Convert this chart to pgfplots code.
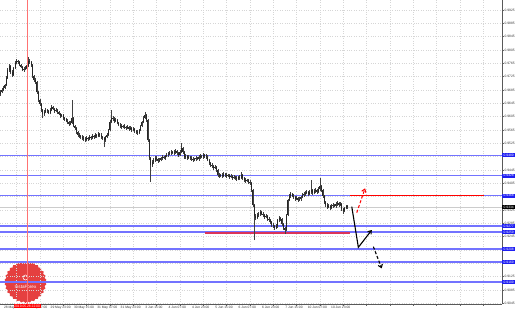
\documentclass[border=0pt]{standalone}
\usepackage{fontspec}
\setmainfont{Liberation Sans}
\usepackage{pgfplots}
\usepackage{pgfplotstable}
\pgfplotsset{compat=1.18}
\usetikzlibrary{shapes.geometric,arrows.meta}
\definecolor{lvl}{rgb}{0.45,0.45,1}
\definecolor{lvlbox}{rgb}{0.12,0.12,0.95}
\definecolor{logo}{rgb}{0.9,0.25,0.25}
\definecolor{vred}{rgb}{1,0.45,0.45}
\definecolor{pinkred}{rgb}{0.86,0.2,0.35}

\pgfplotstableread{
x lo hi bot top
-11 0.9668 0.9684 0.9673 0.9679
-10 0.9675 0.9690 0.9679 0.9685
-9 0.9681 0.9697 0.9685 0.9691
-8 0.9688 0.9704 0.9691 0.9700
-7 0.9697 0.9726 0.9700 0.9721
-6 0.9718 0.9752 0.9721 0.9745
-5 0.9740 0.9763 0.9745 0.9757
-4 0.9733 0.9761 0.9739 0.9757
-3 0.9724 0.9744 0.9730 0.9739
-2 0.9727 0.9755 0.9730 0.9751
-1 0.9748 0.9771 0.9751 0.9766
0 0.9762 0.9777 0.9766 0.9772
1 0.9764 0.9776 0.9769 0.9772
2 0.9756 0.9773 0.9760 0.9769
3 0.9750 0.9764 0.9754 0.9760
4 0.9741 0.9758 0.9745 0.9754
5 0.9740 0.9753 0.9745 0.9748
6 0.9744 0.9756 0.9748 0.9751
7 0.9747 0.9761 0.9751 0.9757
8 0.9754 0.9785 0.9757 0.9772
9 0.9764 0.9778 0.9769 0.9772
10 0.9755 0.9773 0.9760 0.9769
11 0.9722 0.9764 0.9727 0.9760
12 0.9710 0.9731 0.9715 0.9727
13 0.9703 0.9720 0.9709 0.9715
14 0.9674 0.9712 0.9679 0.9709
15 0.9650 0.9682 0.9655 0.9679
16 0.9638 0.9659 0.9643 0.9655
17 0.9620 0.9646 0.9625 0.9643
18 0.9600 0.9628 0.9613 0.9625
19 0.9608 0.9624 0.9613 0.9619
20 0.9615 0.9630 0.9619 0.9625
21 0.9617 0.9629 0.9622 0.9625
22 0.9612 0.9626 0.9616 0.9622
23 0.9612 0.9630 0.9616 0.9625
24 0.9621 0.9640 0.9625 0.9634
25 0.9624 0.9638 0.9628 0.9634
26 0.9617 0.9632 0.9622 0.9628
27 0.9618 0.9630 0.9622 0.9625
28 0.9614 0.9629 0.9619 0.9625
29 0.9609 0.9623 0.9613 0.9619
30 0.9602 0.9617 0.9607 0.9613
31 0.9603 0.9614 0.9607 0.9610
32 0.9596 0.9614 0.9601 0.9610
33 0.9593 0.9605 0.9598 0.9601
34 0.9588 0.9602 0.9592 0.9598
35 0.9584 0.9597 0.9589 0.9592
36 0.9578 0.9593 0.9583 0.9589
37 0.9579 0.9591 0.9583 0.9586
38 0.9582 0.9655 0.9586 0.9601
39 0.9573 0.9605 0.9577 0.9601
40 0.9566 0.9581 0.9571 0.9577
41 0.9554 0.9575 0.9559 0.9571
42 0.9545 0.9563 0.9550 0.9559
43 0.9542 0.9555 0.9547 0.9550
44 0.9539 0.9551 0.9544 0.9547
45 0.9536 0.9549 0.9541 0.9544
46 0.9532 0.9546 0.9538 0.9541
47 0.9530 0.9543 0.9535 0.9538
48 0.9531 0.9546 0.9535 0.9541
49 0.9533 0.9545 0.9538 0.9541
50 0.9534 0.9549 0.9538 0.9544
51 0.9536 0.9548 0.9541 0.9544
52 0.9537 0.9552 0.9541 0.9547
53 0.9539 0.9551 0.9544 0.9547
54 0.9540 0.9555 0.9544 0.9550
55 0.9542 0.9554 0.9547 0.9550
56 0.9543 0.9558 0.9547 0.9553
57 0.9545 0.9557 0.9550 0.9553
58 0.9539 0.9555 0.9544 0.9550
59 0.9536 0.9548 0.9541 0.9544
60 0.9514 0.9545 0.9535 0.9541
61 0.9530 0.9548 0.9535 0.9544
62 0.9540 0.9555 0.9544 0.9550
63 0.9546 0.9569 0.9550 0.9565
64 0.9561 0.9594 0.9565 0.9589
65 0.9585 0.9625 0.9589 0.9601
66 0.9593 0.9606 0.9598 0.9601
67 0.9587 0.9603 0.9592 0.9598
68 0.9588 0.9600 0.9592 0.9595
69 0.9582 0.9599 0.9586 0.9595
70 0.9576 0.9590 0.9580 0.9586
71 0.9572 0.9585 0.9577 0.9580
72 0.9569 0.9582 0.9574 0.9577
73 0.9570 0.9581 0.9574 0.9577
74 0.9569 0.9582 0.9574 0.9577
75 0.9566 0.9578 0.9571 0.9574
76 0.9567 0.9579 0.9571 0.9574
77 0.9563 0.9578 0.9568 0.9574
78 0.9564 0.9576 0.9568 0.9571
79 0.9560 0.9575 0.9565 0.9571
80 0.9561 0.9573 0.9565 0.9568
81 0.9557 0.9572 0.9562 0.9568
82 0.9554 0.9566 0.9559 0.9562
83 0.9551 0.9564 0.9556 0.9559
84 0.9552 0.9569 0.9556 0.9565
85 0.9561 0.9581 0.9565 0.9577
86 0.9573 0.9593 0.9577 0.9589
87 0.9585 0.9606 0.9589 0.9601
88 0.9597 0.9619 0.9601 0.9610
89 0.9590 0.9614 0.9595 0.9610
90 0.9530 0.9598 0.9535 0.9595
91 0.9476 0.9538 0.9481 0.9535
92 0.9409 0.9485 0.9460 0.9481
93 0.9455 0.9474 0.9460 0.9469
94 0.9464 0.9480 0.9469 0.9475
95 0.9470 0.9486 0.9475 0.9481
96 0.9473 0.9486 0.9478 0.9481
97 0.9467 0.9482 0.9472 0.9478
98 0.9468 0.9480 0.9472 0.9475
99 0.9471 0.9485 0.9475 0.9481
100 0.9476 0.9489 0.9481 0.9484
101 0.9477 0.9488 0.9481 0.9484
102 0.9476 0.9491 0.9481 0.9487
103 0.9483 0.9495 0.9487 0.9490
104 0.9485 0.9498 0.9490 0.9493
105 0.9489 0.9501 0.9493 0.9496
106 0.9491 0.9504 0.9496 0.9499
107 0.9492 0.9503 0.9496 0.9499
108 0.9491 0.9504 0.9496 0.9499
109 0.9494 0.9507 0.9499 0.9502
110 0.9491 0.9506 0.9496 0.9502
111 0.9485 0.9500 0.9490 0.9496
112 0.9486 0.9504 0.9490 0.9499
113 0.9495 0.9526 0.9499 0.9511
114 0.9494 0.9515 0.9499 0.9511
115 0.9479 0.9503 0.9484 0.9499
116 0.9479 0.9492 0.9484 0.9487
117 0.9476 0.9491 0.9481 0.9487
118 0.9477 0.9489 0.9481 0.9484
119 0.9476 0.9488 0.9481 0.9484
120 0.9473 0.9486 0.9478 0.9481
121 0.9470 0.9483 0.9475 0.9478
122 0.9471 0.9482 0.9475 0.9478
123 0.9473 0.9486 0.9478 0.9481
124 0.9474 0.9485 0.9478 0.9481
125 0.9473 0.9489 0.9478 0.9484
126 0.9479 0.9492 0.9484 0.9487
127 0.9480 0.9491 0.9484 0.9487
128 0.9479 0.9495 0.9484 0.9490
129 0.9482 0.9494 0.9487 0.9490
130 0.9479 0.9492 0.9484 0.9487
131 0.9471 0.9489 0.9475 0.9484
132 0.9461 0.9479 0.9466 0.9475
133 0.9455 0.9470 0.9460 0.9466
134 0.9452 0.9465 0.9457 0.9460
135 0.9446 0.9461 0.9451 0.9457
136 0.9447 0.9459 0.9451 0.9454
137 0.9440 0.9458 0.9445 0.9454
138 0.9425 0.9449 0.9430 0.9445
139 0.9422 0.9435 0.9427 0.9430
140 0.9423 0.9434 0.9427 0.9430
141 0.9422 0.9435 0.9427 0.9430
142 0.9423 0.9438 0.9427 0.9433
143 0.9425 0.9437 0.9430 0.9433
144 0.9422 0.9435 0.9427 0.9430
145 0.9423 0.9434 0.9427 0.9430
146 0.9419 0.9434 0.9424 0.9430
147 0.9420 0.9432 0.9424 0.9427
148 0.9416 0.9431 0.9421 0.9427
149 0.9417 0.9429 0.9421 0.9424
150 0.9416 0.9428 0.9421 0.9424
151 0.9413 0.9426 0.9418 0.9421
152 0.9414 0.9428 0.9418 0.9424
153 0.9416 0.9429 0.9421 0.9424
154 0.9417 0.9439 0.9421 0.9430
155 0.9416 0.9434 0.9421 0.9430
156 0.9410 0.9425 0.9415 0.9421
157 0.9407 0.9420 0.9412 0.9415
158 0.9408 0.9419 0.9412 0.9415
159 0.9404 0.9419 0.9409 0.9415
160 0.9401 0.9414 0.9406 0.9409
161 0.9380 0.9410 0.9385 0.9406
162 0.9335 0.9389 0.9340 0.9385
163 0.9235 0.9344 0.9307 0.9340
164 0.9296 0.9312 0.9301 0.9307
165 0.9297 0.9315 0.9301 0.9310
166 0.9305 0.9318 0.9310 0.9313
167 0.9308 0.9324 0.9313 0.9319
168 0.9309 0.9323 0.9313 0.9319
169 0.9305 0.9318 0.9310 0.9313
170 0.9299 0.9314 0.9304 0.9310
171 0.9300 0.9312 0.9304 0.9307
172 0.9293 0.9311 0.9298 0.9307
173 0.9290 0.9303 0.9295 0.9298
174 0.9284 0.9299 0.9289 0.9295
175 0.9275 0.9293 0.9280 0.9289
176 0.9272 0.9285 0.9277 0.9280
177 0.9266 0.9281 0.9271 0.9277
178 0.9267 0.9282 0.9271 0.9277
179 0.9272 0.9299 0.9277 0.9295
180 0.9290 0.9306 0.9295 0.9301
181 0.9293 0.9305 0.9298 0.9301
182 0.9278 0.9302 0.9283 0.9298
183 0.9266 0.9287 0.9271 0.9283
184 0.9253 0.9275 0.9265 0.9271
185 0.9261 0.9314 0.9265 0.9310
186 0.9306 0.9359 0.9310 0.9355
187 0.9351 0.9372 0.9355 0.9367
188 0.9362 0.9378 0.9367 0.9373
189 0.9363 0.9377 0.9367 0.9373
190 0.9359 0.9372 0.9364 0.9367
191 0.9353 0.9368 0.9358 0.9364
192 0.9354 0.9366 0.9358 0.9361
193 0.9350 0.9365 0.9355 0.9361
194 0.9351 0.9363 0.9355 0.9358
195 0.9353 0.9368 0.9358 0.9364
196 0.9360 0.9375 0.9364 0.9370
197 0.9365 0.9378 0.9370 0.9373
198 0.9368 0.9381 0.9373 0.9376
199 0.9372 0.9384 0.9376 0.9379
200 0.9368 0.9383 0.9373 0.9379
201 0.9369 0.9384 0.9373 0.9379
202 0.9374 0.9415 0.9379 0.9385
203 0.9371 0.9389 0.9376 0.9385
204 0.9372 0.9387 0.9376 0.9382
205 0.9377 0.9390 0.9382 0.9385
206 0.9374 0.9389 0.9379 0.9385
207 0.9375 0.9393 0.9379 0.9388
208 0.9383 0.9421 0.9388 0.9397
209 0.9380 0.9401 0.9385 0.9397
210 0.9362 0.9389 0.9367 0.9385
211 0.9344 0.9371 0.9349 0.9367
212 0.9335 0.9353 0.9340 0.9349
213 0.9329 0.9345 0.9334 0.9340
214 0.9330 0.9342 0.9334 0.9337
215 0.9326 0.9341 0.9331 0.9337
216 0.9327 0.9342 0.9331 0.9337
217 0.9332 0.9345 0.9337 0.9340
218 0.9333 0.9344 0.9337 0.9340
219 0.9332 0.9348 0.9337 0.9343
220 0.9338 0.9351 0.9343 0.9346
221 0.9335 0.9350 0.9340 0.9346
222 0.9336 0.9348 0.9340 0.9343
223 0.9323 0.9347 0.9328 0.9343
224 0.9313 0.9332 0.9322 0.9328
225 0.9318 0.9335 0.9322 0.9331
226 0.9327 0.9341 0.9331 0.9337
227 0.9329 0.9341 0.9334 0.9337
}\bars

\begin{document}
\begin{tikzpicture}[x=1bp,y=1bp]
\useasboundingbox (0,-6) rectangle (517,304);
% watermark logo
\node[star, star points=30, star point ratio=1.08, minimum size=42bp, inner sep=0pt, fill=logo] at (25.5,22) {};
\node[circle, draw=white, line width=0.5bp, minimum size=5bp, inner sep=0pt] at (25.5,26.5) {};
\node[text=white, font=\fontsize{4.6}{5}\selectfont, inner sep=0pt] at (25.5,17.5) {InstaForex};
\begin{axis}[
  at={(0,0)}, anchor=south west,
  scale only axis, width=502bp, height=304bp,
  xmin=-11.29, xmax=332.9, ymin=0.9043, ymax=0.9955,
  axis x line*=bottom, axis y line*=right,
  axis line style={black!65, line width=0.6bp},
  clip=false,
  xtick={0,16,...,320},
  xticklabels={28 May 15:00,29 May 07:00,29 May 23:00,30 May 15:00,31 May 07:00,31 May 23:00,3 Jun 15:00,4 Jun 07:00,4 Jun 23:00,5 Jun 15:00,6 Jun 07:00,6 Jun 23:00,7 Jun 15:00,10 Jun 07:00,10 Jun 23:00,{},{},{},{},{},{}},
  ytick={0.9045,0.9085,...,0.9926},
  scaled y ticks=false,
  grid=major,
  major grid style={dotted, black!16, line width=0.45bp},
  tick style={black!60, line width=0.4bp},
  major tick length=1.8bp, tick align=outside,
  ticklabel style={font=\fontsize{3.3}{4}\selectfont, text=black!80},
  xticklabel style={anchor=north, xshift=-2.5bp, inner sep=0.6bp},
  yticklabel style={anchor=west, inner sep=0.6bp,
    /pgf/number format/fixed, /pgf/number format/fixed zerofill,
    /pgf/number format/precision=4, /pgf/number format/assume math mode=true},
]
% level lines (drawn first, under candles)
\addplot[draw=lvl, line width=1.6bp, mark=none] coordinates {(-11.29,0.9489) (332.9,0.9489)};
\addplot[draw=lvl, line width=1.6bp, mark=none] coordinates {(-11.29,0.9428) (332.9,0.9428)};
\addplot[draw=lvl, line width=1.6bp, mark=none] coordinates {(-11.29,0.9368) (332.9,0.9368)};
\addplot[draw=lvl, line width=1.6bp, mark=none] coordinates {(-11.29,0.9277) (332.9,0.9277)};
\addplot[draw=lvl, line width=1.6bp, mark=none] coordinates {(-11.29,0.9259) (332.9,0.9259)};
\addplot[draw=lvl, line width=1.6bp, mark=none] coordinates {(-11.29,0.9208) (332.9,0.9208)};
\addplot[draw=lvl, line width=1.6bp, mark=none] coordinates {(-11.29,0.9169) (332.9,0.9169)};
\addplot[draw=lvl, line width=1.6bp, mark=none] coordinates {(-11.29,0.9109) (332.9,0.9109)};
% bid line
\addplot[draw=black!20, line width=0.5bp, mark=none] coordinates {(-11.29,0.9334) (332.9,0.9334)};
% vertical red line
\addplot[draw=vred, line width=1.1bp, mark=none] coordinates {(7.3,0.9043) (7.3,0.9955)};
% red lines
\addplot[draw=pinkred, line width=1.5bp, mark=none] coordinates {(129.3,0.9256) (228.7,0.9256)};
\addplot[draw=red, line width=1.6bp, mark=none] coordinates {(228.7,0.9368) (320.6,0.9368)};
% candles: wicks and bodies
\addplot[draw=none, mark=none, error bars/.cd, y dir=plus, y explicit, error mark=none,
  error bar style={draw=black!75, line width=0.45bp}]
  table[x=x, y=lo, y error plus expr=\thisrow{hi}-\thisrow{lo}] {\bars};
\addplot[draw=none, mark=none, error bars/.cd, y dir=plus, y explicit, error mark=none,
  error bar style={draw=black!85, line width=0.95bp}]
  table[x=x, y=bot, y error plus expr=\thisrow{top}-\thisrow{bot}] {\bars};
% arrows
\addplot[draw=black, line width=1.1bp, mark=none, -{Straight Barb[length=3bp,width=4.5bp]}] coordinates {(229.9,0.9335) (234.4,0.9213) (243.6,0.9265)};
\addplot[draw=black, line width=1.1bp, mark=none, dash pattern=on 3bp off 2bp, -{Straight Barb[length=3bp,width=4.5bp]}] coordinates {(244.7,0.9215) (250.4,0.9150)};
\addplot[draw=red, line width=1.0bp, mark=none, dash pattern=on 3bp off 2bp, -{Straight Barb[length=3bp,width=4.5bp]}] coordinates {(233.3,0.9317) (239.0,0.9390)};
% price labels at right
\node[fill=lvlbox, text=white, font=\fontsize{3.3}{4}\selectfont, inner sep=0.7bp, anchor=west, minimum width=13bp] at (axis cs:332.9,0.9489) {0.9489};
\node[fill=lvlbox, text=white, font=\fontsize{3.3}{4}\selectfont, inner sep=0.7bp, anchor=west, minimum width=13bp] at (axis cs:332.9,0.9428) {0.9428};
\node[fill=lvlbox, text=white, font=\fontsize{3.3}{4}\selectfont, inner sep=0.7bp, anchor=west, minimum width=13bp] at (axis cs:332.9,0.9368) {0.9368};
\node[fill=black, text=white, font=\fontsize{3.3}{4}\selectfont, inner sep=0.7bp, anchor=west, minimum width=13bp] at (axis cs:332.9,0.9334) {0.9334};
\node[fill=lvlbox, text=white, font=\fontsize{3.3}{4}\selectfont, inner sep=0.7bp, anchor=west, minimum width=13bp] at (axis cs:332.9,0.9277) {0.9277};
\node[fill=lvlbox, text=white, font=\fontsize{3.3}{4}\selectfont, inner sep=0.7bp, anchor=west, minimum width=13bp] at (axis cs:332.9,0.9259) {0.9259};
\node[fill=lvlbox, text=white, font=\fontsize{3.3}{4}\selectfont, inner sep=0.7bp, anchor=west, minimum width=13bp] at (axis cs:332.9,0.9208) {0.9208};
\node[fill=lvlbox, text=white, font=\fontsize{3.3}{4}\selectfont, inner sep=0.7bp, anchor=west, minimum width=13bp] at (axis cs:332.9,0.9169) {0.9169};
\node[fill=lvlbox, text=white, font=\fontsize{3.3}{4}\selectfont, inner sep=0.7bp, anchor=west, minimum width=13bp] at (axis cs:332.9,0.9109) {0.9109};
\node[fill=red, text=white, font=\fontsize{3.3}{4}\selectfont, inner sep=0.7bp, anchor=north] at (axis cs:7.3,0.9043) {2019.05.28 22:00};
\end{axis}
\end{tikzpicture}
\end{document}
